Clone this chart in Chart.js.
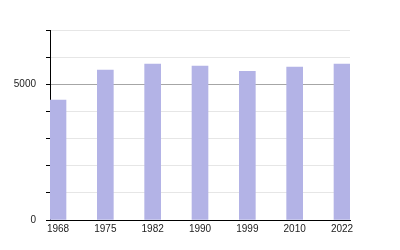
<!DOCTYPE html>
<html>
<head>
<meta charset="utf-8">
<script src="https://cdn.jsdelivr.net/npm/chart.js@4"></script>
<style>
  html, body { margin: 0; padding: 0; background: #fff; }
  #wrap { width: 400px; height: 250px; }
</style>
</head>
<body>
<div id="wrap"><canvas id="chart"></canvas></div>
<script>
// Population par année de recensement
const years = ['1968', '1975', '1982', '1990', '1999', '2010', '2022'];
const population = [4420, 5520, 5740, 5670, 5480, 5630, 5740];
const yLabels = [0, 5000];

const points = population.map((v, i) => ({ x: i, y: v }));

new Chart(document.getElementById('chart'), {
    type: 'bar',
    data: {
        datasets: [{
            data: points,
            backgroundColor: '#b3b3e6',
            borderWidth: 0,
            barThickness: 16
        }]
    },
    options: {
        responsive: true,
        maintainAspectRatio: false,
        animation: false,
        layout: { padding: { top: 30, right: 50, left: 0, bottom: 0 } },
        plugins: { legend: { display: false }, tooltip: { enabled: false } },
        scales: {
            x: {
                type: 'linear',
                offset: false,
                min: -0.169,
                max: 6.169,
                afterBuildTicks: s => { s.ticks = years.map((y, i) => ({ value: i })); },
                afterFit: s => { s.height = 30; },
                grid: { display: false, drawTicks: false, offset: false },
                border: { display: true, color: '#000', width: 1 },
                ticks: {
                    callback: v => years[v],
                    font: { family: 'Liberation Sans', size: 10 },
                    color: '#222',
                    padding: 3,
                    maxRotation: 0,
                    autoSkip: false
                }
            },
            y: {
                min: 0,
                max: 7000,
                afterFit: s => { s.width = 50; },
                grid: {
                    color: c => c.tick.value === 5000 ? '#a6a6a6' : '#e6e6e6',
                    tickColor: '#000',
                    tickLength: 4
                },
                border: { display: true, color: '#000', width: 1 },
                ticks: {
                    stepSize: 1000,
                    callback: v => yLabels.includes(v) ? String(v) : '',
                    font: { family: 'Liberation Sans', size: 10 },
                    color: '#222',
                    padding: 10
                }
            }
        }
    }
});
</script>
</body>
</html>
